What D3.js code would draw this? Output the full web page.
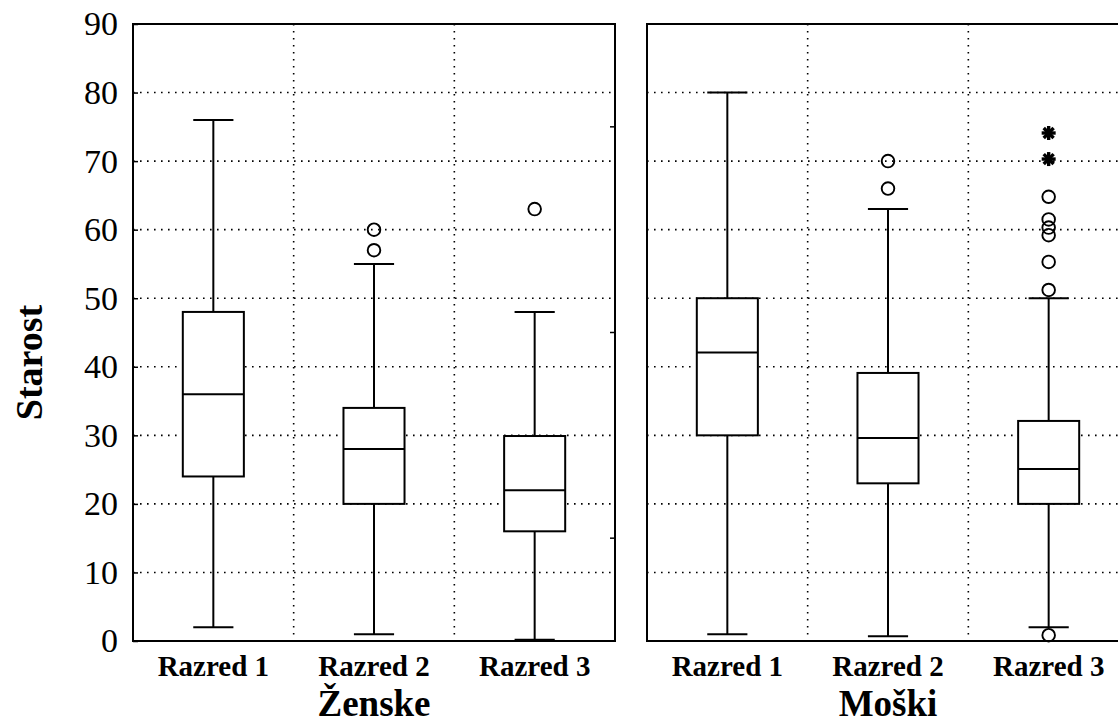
<!DOCTYPE html>
<html>
<head>
<meta charset="utf-8">
<script src="https://cdn.jsdelivr.net/npm/d3@7"></script>
<style>
  html, body { margin: 0; padding: 0; background: #fff; }
  svg { display: block; font-family: "Liberation Serif", "Times New Roman", serif; }
</style>
</head>
<body>
<svg id="chart" width="1118" height="725"></svg>
<script>
// box plot stats, panel by panel (Ženske first, then Moški)
const panels = ['Ženske', 'Moški'];
const classes = ['Razred 1', 'Razred 2', 'Razred 3'];
const yTicks = [0, 10, 20, 30, 40, 50, 60, 70, 80, 90];

const lowWhisker  = [2, 1, 0.2, 1, 0.7, 2];
const q1          = [24, 20, 16, 30, 23, 20];
const median      = [36, 28, 22, 42.1, 29.6, 25.1];
const q3          = [48, 34, 29.9, 50, 39.1, 32.1];
const highWhisker = [76, 55, 48, 80, 63, 50];
const outliers = [[], [57, 60], [63], [], [66, 70], [0.85, 51.2, 55.3, 59.2, 60.3, 61.5, 64.8]];
const extremes = [[], [], [], [], [], [70.3, 74.1]];

const svg = d3.select('#chart');
const plotTop = 24, plotBottom = 641;
const panelLeft = [133, 647];
const panelWidth = 482;

const y = d3.scaleLinear().domain([0, 90]).range([plotBottom, plotTop]);

panels.forEach((name, p) => {
  const x0 = panelLeft[p];
  const x = d3.scaleBand().domain(classes).range([x0, x0 + panelWidth]).padding(0);
  const g = svg.append('g');

  // dotted grid
  g.selectAll('.hgrid').data(yTicks.filter(v => v > 0 && v < 90)).join('line')
    .attr('x1', x0).attr('x2', x0 + panelWidth)
    .attr('y1', d => y(d)).attr('y2', d => y(d))
    .attr('stroke', '#000').attr('stroke-width', 1.6)
    .attr('stroke-dasharray', '1.6,5.4');
  g.selectAll('.vgrid').data(classes.slice(1)).join('line')
    .attr('x1', d => x(d)).attr('x2', d => x(d))
    .attr('y1', plotTop).attr('y2', plotBottom)
    .attr('stroke', '#000').attr('stroke-width', 1.6)
    .attr('stroke-dasharray', '1.6,5.4');

  // small inner ticks on the right edge
  g.selectAll('.rtick').data([15, 45, 75]).join('line')
    .attr('x1', x0 + panelWidth - 5).attr('x2', x0 + panelWidth)
    .attr('y1', d => y(d)).attr('y2', d => y(d))
    .attr('stroke', '#000').attr('stroke-width', 1.5);

  // panel frame
  g.append('rect')
    .attr('x', x0).attr('y', plotTop).attr('width', panelWidth).attr('height', plotBottom - plotTop)
    .attr('fill', 'none').attr('stroke', '#000').attr('stroke-width', 2);

  const bw = x.bandwidth();
  const boxW = bw * 0.38;
  const capW = bw * 0.25;

  classes.forEach((c, k) => {
    const i = p * 3 + k;
    const cx = x(c) + bw / 2;
    const b = g.append('g');

    // whiskers
    b.append('line').attr('x1', cx).attr('x2', cx)
      .attr('y1', y(lowWhisker[i])).attr('y2', y(highWhisker[i]))
      .attr('stroke', '#000').attr('stroke-width', 2);
    [lowWhisker[i], highWhisker[i]].forEach(v => {
      b.append('line').attr('x1', cx - capW / 2).attr('x2', cx + capW / 2)
        .attr('y1', y(v)).attr('y2', y(v))
        .attr('stroke', '#000').attr('stroke-width', 2);
    });

    // box
    b.append('rect')
      .attr('x', cx - boxW / 2).attr('y', y(q3[i]))
      .attr('width', boxW).attr('height', y(q1[i]) - y(q3[i]))
      .attr('fill', '#fff').attr('stroke', '#000').attr('stroke-width', 2);
    b.append('line').attr('x1', cx - boxW / 2).attr('x2', cx + boxW / 2)
      .attr('y1', y(median[i])).attr('y2', y(median[i]))
      .attr('stroke', '#000').attr('stroke-width', 2);

    // outliers
    b.selectAll('.out').data(outliers[i]).join('circle')
      .attr('cx', cx).attr('cy', d => y(d)).attr('r', 6.3)
      .attr('fill', 'none').attr('stroke', '#000').attr('stroke-width', 1.9);

    // extremes as asterisks
    extremes[i].forEach(v => {
      const s = b.append('g').attr('transform', `translate(${cx},${y(v)})`);
      [0, 45, 90, 135].forEach(a => {
        const r = 7, t = a * Math.PI / 180;
        s.append('line')
          .attr('x1', -r * Math.cos(t)).attr('y1', -r * Math.sin(t))
          .attr('x2', r * Math.cos(t)).attr('y2', r * Math.sin(t))
          .attr('stroke', '#000').attr('stroke-width', 3.4);
      });
    });
  });

  // category labels
  const xAxis = g.append('g').attr('transform', `translate(0,${plotBottom})`)
    .call(d3.axisBottom(x).tickSize(0).tickPadding(14));
  xAxis.select('.domain').remove();
  xAxis.selectAll('text')
    .attr('font-family', '"Liberation Serif", serif')
    .attr('font-size', 29).attr('font-weight', 'bold').attr('fill', '#000');

  // panel title
  g.append('text')
    .attr('x', x0 + panelWidth / 2).attr('y', 716)
    .attr('text-anchor', 'middle')
    .attr('font-size', 37).attr('font-weight', 'bold')
    .text(name);

  if (p === 0) {
    const yAxis = g.append('g').attr('transform', `translate(${x0},0)`)
      .call(d3.axisLeft(y).tickValues(yTicks).tickSize(-5).tickPadding(15));
    yAxis.select('.domain').remove();
    yAxis.selectAll('line').attr('stroke-width', 1.5);
    yAxis.selectAll('text')
      .attr('font-family', '"Liberation Serif", serif')
      .attr('font-size', 34).attr('fill', '#000');
  }
});

svg.append('text')
  .attr('transform', `translate(42,${(plotTop + plotBottom) / 2 + 30}) rotate(-90)`)
  .attr('text-anchor', 'middle')
  .attr('font-size', 38).attr('font-weight', 'bold')
  .text('Starost');
</script>
</body>
</html>
